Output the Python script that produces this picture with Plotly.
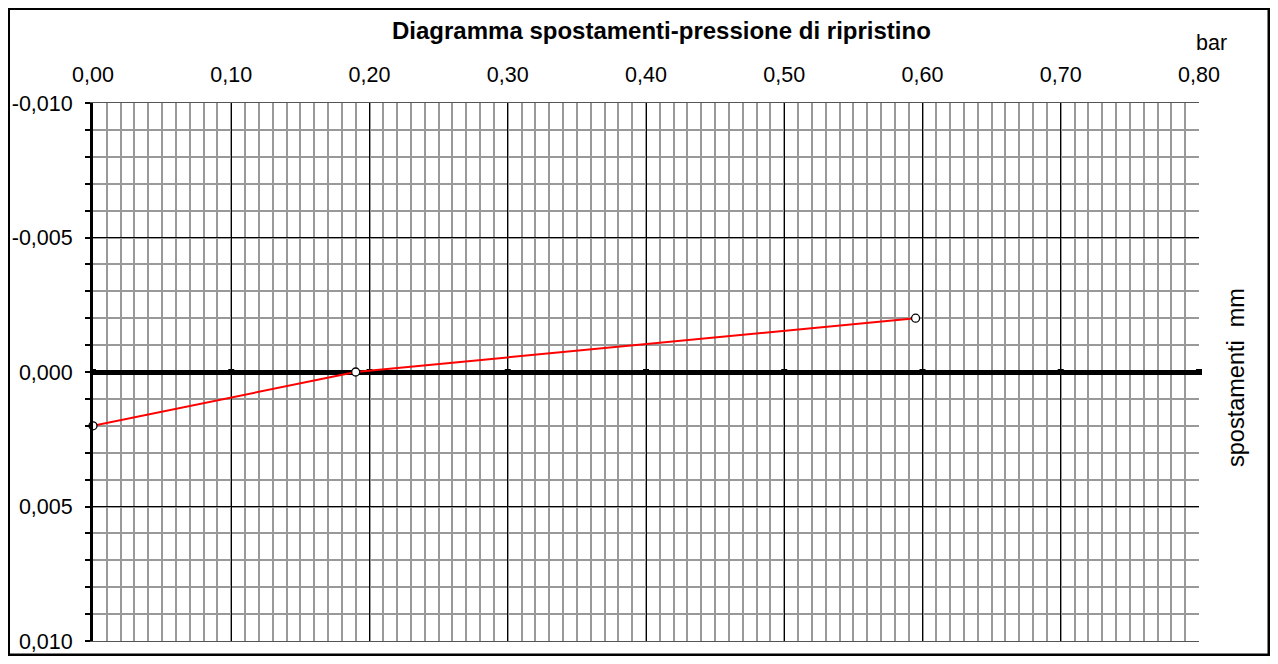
import plotly.graph_objects as go

# Data
pressione = [0.0, 0.19, 0.595]          # bar
spostamenti = [0.002, 0.0, -0.002]      # mm
x_ticks = [0.0, 0.1, 0.2, 0.3, 0.4, 0.5, 0.6, 0.7, 0.8]
y_ticks = [-0.010, -0.005, 0.0, 0.005, 0.010]
x_ticktext = [f"{v:.2f}".replace(".", ",") for v in x_ticks]
y_ticktext = [f"{v:.3f}".replace(".", ",") for v in y_ticks]

FONT = "Liberation Sans, Arial, sans-serif"
FS = 21.5

# figure coordinates (page offset of 8px from body margin)
W, H = 1262, 648
L, R, T, B = 85, 71, 95, 15
PW, PH = W - L - R, H - T - B


def px(x):
    return (x - L) / PW


def py(y):
    return (H - B - y) / PH


fig = go.Figure()

# tick marks on the zero line (axis crossing)
fig.add_trace(go.Scatter(
    x=x_ticks, y=[0.0] * len(x_ticks), mode="markers",
    marker=dict(symbol="square", size=6, color="black"),
    hoverinfo="skip", showlegend=False, cliponaxis=False))

fig.add_trace(go.Scatter(
    x=pressione, y=spostamenti, mode="lines+markers",
    line=dict(color="#ff0000", width=2),
    marker=dict(symbol="circle", size=8, color="white",
                line=dict(color="black", width=1.3)),
    showlegend=False, cliponaxis=False))

fig.update_layout(
    width=W, height=H,
    margin=dict(l=L, r=R, t=T, b=B, autoexpand=False),
    paper_bgcolor="white", plot_bgcolor="white",
    font=dict(family=FONT, size=FS, color="black"),
    xaxis=dict(
        side="top", range=[0, 0.8], tickvals=x_ticks, ticktext=x_ticktext,
        automargin=False,
        showgrid=True, gridcolor="black", gridwidth=1,
        minor=dict(dtick=0.01, showgrid=True, gridcolor="#999999", gridwidth=2),
        zeroline=False, showline=True, linecolor="#555555", linewidth=1,
        mirror=True, ticks="", ticklabelstandoff=11,
        tickfont=dict(size=FS, family=FONT)),
    yaxis=dict(
        range=[0.010, -0.010], tickvals=y_ticks, ticktext=y_ticktext,
        automargin=False,
        showgrid=True, gridcolor="black", gridwidth=1,
        minor=dict(dtick=0.001, showgrid=True, gridcolor="#999999", gridwidth=2,
                   ticks="outside", ticklen=5, tickcolor="black", tickwidth=2),
        zeroline=True, zerolinecolor="black", zerolinewidth=5,
        showline=True, linecolor="black", linewidth=3,
        ticks="outside", ticklen=5, tickcolor="black", tickwidth=2,
        ticklabelstandoff=8,
        tickfont=dict(size=FS, family=FONT)),
    annotations=[
        dict(text="<b>Diagramma spostamenti-pressione di ripristino</b>",
             xref="paper", yref="paper", x=px(653), y=py(22),
             xanchor="center", yanchor="middle", showarrow=False,
             font=dict(size=24, family=FONT)),
        dict(text="bar", xref="paper", yref="paper",
             x=px(1203), y=py(35),
             xanchor="center", yanchor="middle", showarrow=False,
             font=dict(size=FS, family=FONT)),
        dict(text="spostamenti  mm", xref="paper", yref="paper",
             x=px(1228), y=py(370), textangle=-90,
             xanchor="center", yanchor="middle", showarrow=False,
             font=dict(size=23.5, family=FONT)),
    ],
    shapes=[
        dict(type="rect", xref="paper", yref="paper",
             x0=px(0.5), x1=px(1261), y0=py(647), y1=py(0.5),
             line=dict(color="black", width=3), layer="above"),
    ],
)

fig.write_html("out.html")
